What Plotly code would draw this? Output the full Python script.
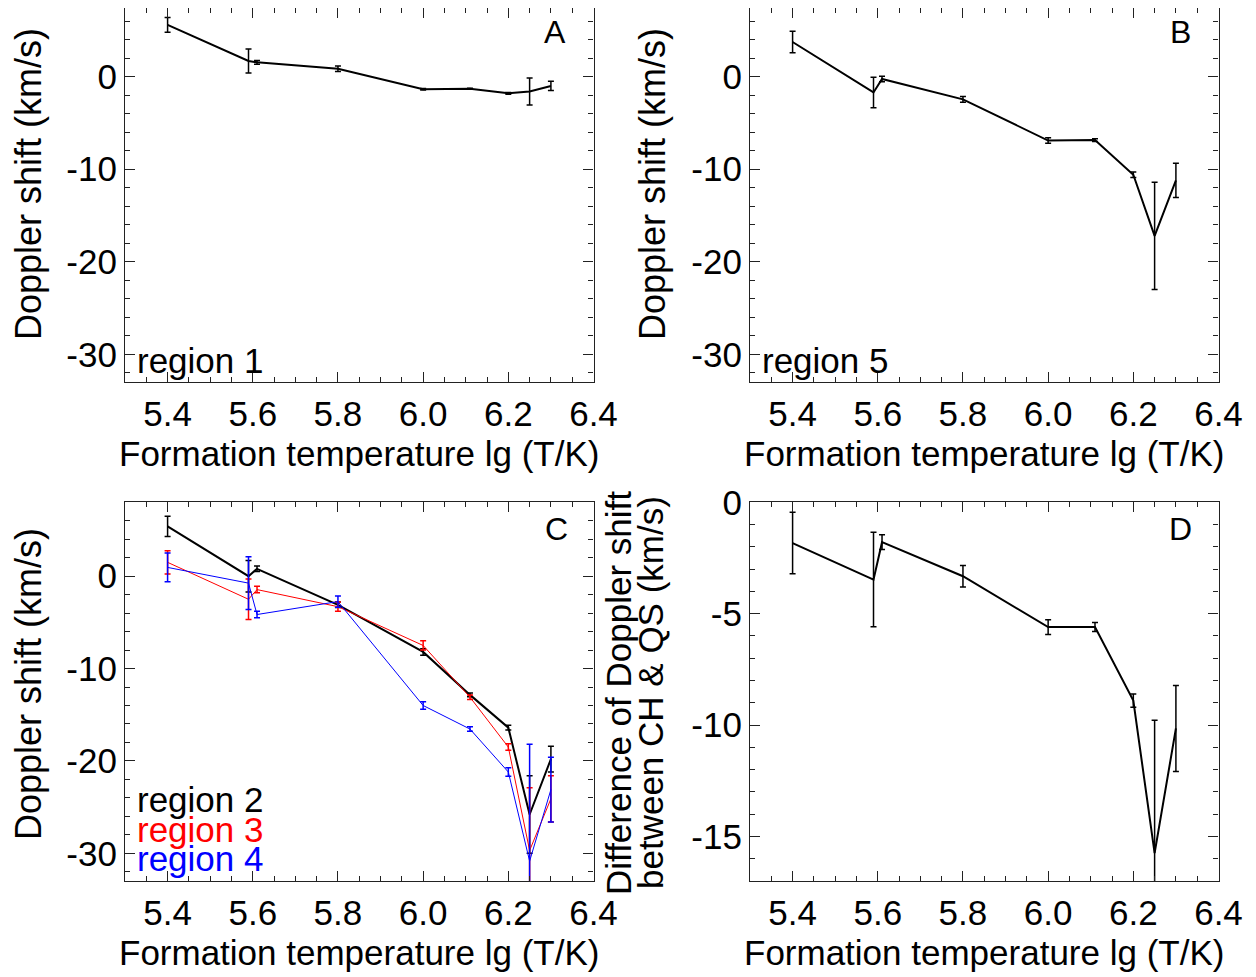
import plotly.graph_objects as go

# Formation temperatures lg(T/K) of the spectral lines
temp = [5.40, 5.59, 5.61, 5.80, 6.00, 6.11, 6.20, 6.25, 6.30]

# Panel A: region 1
r1_v = [5.6, 1.7, 1.55, 0.85, -1.35, -1.3, -1.8, -1.6, -1.0]
r1_e = [0.8, 1.3, 0.2, 0.3, 0.08, 0.06, 0.1, 1.45, 0.5]

# Panel B: region 5
r5_v = [3.75, -1.7, -0.25, -2.45, -6.9, -6.85, -10.6, -17.2, -11.2]
r5_e = [1.15, 1.65, 0.3, 0.3, 0.3, 0.15, 0.3, 5.8, 1.85]

# Panel C: regions 2, 3, 4
r2_v = [5.4, 0.0, 0.8, -3.1, -8.2, -12.85, -16.4, -25.8, -19.8]
r2_e = [1.1, 1.7, 0.3, 0.3, 0.35, 0.2, 0.25, 4.2, 1.4]
r3_v = [1.5, -2.5, -1.45, -3.3, -7.5, -13.1, -18.5, -29.7, -24.1]
r3_e = [1.25, 2.2, 0.35, 0.5, 0.5, 0.25, 0.35, 6.8, 2.5]
r4_v = [0.95, -0.75, -4.15, -2.75, -14.0, -16.55, -21.2, -30.85, -23.1]
r4_e = [1.55, 2.85, 0.35, 0.6, 0.4, 0.25, 0.45, 12.65, 3.5]

# Panel D: difference CH - QS
diff_v = [-1.83, -3.47, -1.79, -3.32, -5.6, -5.6, -8.9, -15.75, -10.15]
diff_e = [1.38, 2.12, 0.33, 0.48, 0.33, 0.2, 0.3, 5.97, 1.93]

# Tick labels
x_ticks = [5.4, 5.6, 5.8, 6.0, 6.2, 6.4]
x_ticktext = ["5.4", "5.6", "5.8", "6.0", "6.2", "6.4"]
v_ticks = [0, -10, -20, -30]
v_ticktext = ["0", "-10", "-20", "-30"]
d_ticks = [0, -5, -10, -15]
d_ticktext = ["0", "-5", "-10", "-15"]

FONT = "Liberation Sans, Arial, Helvetica, sans-serif"
FS = 35
W, H = 1256, 977
OFF = 8  # page offset of the figure in the browser


def px_x(px):
    return (px - OFF) / W


def px_y(py):
    return min(1.0, max(0.0, 1 - (py - OFF) / H))


fig = go.Figure()


def add(xa, ya, y, e, color, lw):
    fig.add_trace(go.Scatter(
        x=temp, y=y, mode="lines", xaxis=xa, yaxis=ya,
        line=dict(color=color, width=lw),
        error_y=dict(type="data", array=e, visible=True, color=color,
                     thickness=1.5, width=3),
        showlegend=False, hoverinfo="skip"))


add("x", "y", r1_v, r1_e, "black", 2)
add("x2", "y2", r5_v, r5_e, "black", 2)
add("x3", "y3", r2_v, r2_e, "black", 2)
add("x3", "y3", r3_v, r3_e, "red", 1)
add("x3", "y3", r4_v, r4_e, "blue", 1)
add("x4", "y4", diff_v, diff_e, "black", 2)


def xax(domain, anchor):
    return dict(domain=domain, anchor=anchor, range=[5.3, 6.4],
                tickmode="array", tickvals=x_ticks, ticktext=x_ticktext,
                showline=True, linecolor="#222", linewidth=1.2,
                mirror="allticks", ticks="inside", ticklen=10,
                tickwidth=1, tickcolor="#222",
                minor=dict(dtick=0.05, tick0=5.4, ticks="inside", ticklen=5,
                           tickwidth=1, tickcolor="#222", showgrid=False),
                showgrid=False, zeroline=False, automargin=False,
                ticklabelstandoff=1,
                tickfont=dict(family=FONT, size=FS, color="black"))


def yax(domain, anchor, rng, tv, tt, mdt):
    return dict(domain=domain, anchor=anchor, range=rng,
                tickmode="array", tickvals=tv, ticktext=tt,
                showline=True, linecolor="#222", linewidth=1.2,
                mirror="allticks", ticks="inside", ticklen=10,
                tickwidth=1, tickcolor="#222",
                minor=dict(dtick=mdt, tick0=0, ticks="inside", ticklen=5,
                           tickwidth=1, tickcolor="#222", showgrid=False),
                showgrid=False, zeroline=False, automargin=False,
                ticklabelstandoff=0,
                tickfont=dict(family=FONT, size=FS, color="black"))


xl = [px_x(125), px_x(593.5)]
xr = [px_x(750), px_x(1218.5)]
# top panels: frame top clipped to the page top (screen y = 8)
yt = [px_y(382), px_y(8)]
yb = [px_y(881), px_y(502.3)]
# keep the same pixel scale: 0 at y=76.7, -33 at y=382
top_rng = [-33, (76.7 - 8) / ((382 - 76.7) / 33)]

fig.update_layout(
    template="none",
    width=W, height=H,
    margin=dict(l=0, r=0, t=0, b=0, autoexpand=False),
    paper_bgcolor="white", plot_bgcolor="white",
    font=dict(family=FONT, size=FS, color="black"),
    xaxis=xax(xl, "y"), yaxis=yax(yt, "x", top_rng, v_ticks, v_ticktext, 2),
    xaxis2=xax(xr, "y2"), yaxis2=yax(yt, "x2", top_rng, v_ticks, v_ticktext, 2),
    xaxis3=xax(xl, "y3"), yaxis3=yax(yb, "x3", [-33, 8], v_ticks, v_ticktext, 2),
    xaxis4=xax(xr, "y4"), yaxis4=yax(yb, "x4", [-17, 0], d_ticks, d_ticktext, 1),
)


def ann(text, px, py, color="black", size=FS, angle=0, xanchor="center"):
    fig.add_annotation(text=text, x=px_x(px), y=px_y(py), xref="paper",
                       yref="paper", showarrow=False, textangle=angle,
                       xanchor=xanchor, yanchor="middle", borderpad=0,
                       font=dict(family=FONT, size=size, color=color))


xt = "Formation temperature lg (T/K)"
ann(xt, 359, 453)
ann(xt, 984, 453)
ann(xt, 359, 952)
ann(xt, 984, 952)

yt_txt = "Doppler shift (km/s)"
ann(yt_txt, 28, 184, angle=-90, size=36)
ann(yt_txt, 652, 184, angle=-90, size=36)
ann(yt_txt, 28, 684, angle=-90, size=36)
ann("Difference of Doppler shift", 618, 693, angle=-90)
ann("between CH &amp; QS (km/s)", 650, 693, angle=-90)

ann("A", 555, 32, size=32)
ann("B", 1180, 32, size=32)
ann("C", 556, 529, size=32)
ann("D", 1180, 529, size=32)

ann("region 1", 136, 360, xanchor="left")
ann("region 5", 761, 360, xanchor="left")
ann("region 2", 136, 799, xanchor="left")
ann("region 3", 136, 829, color="red", xanchor="left")
ann("region 4", 136, 858, color="blue", xanchor="left")

fig.write_html("out.html")
